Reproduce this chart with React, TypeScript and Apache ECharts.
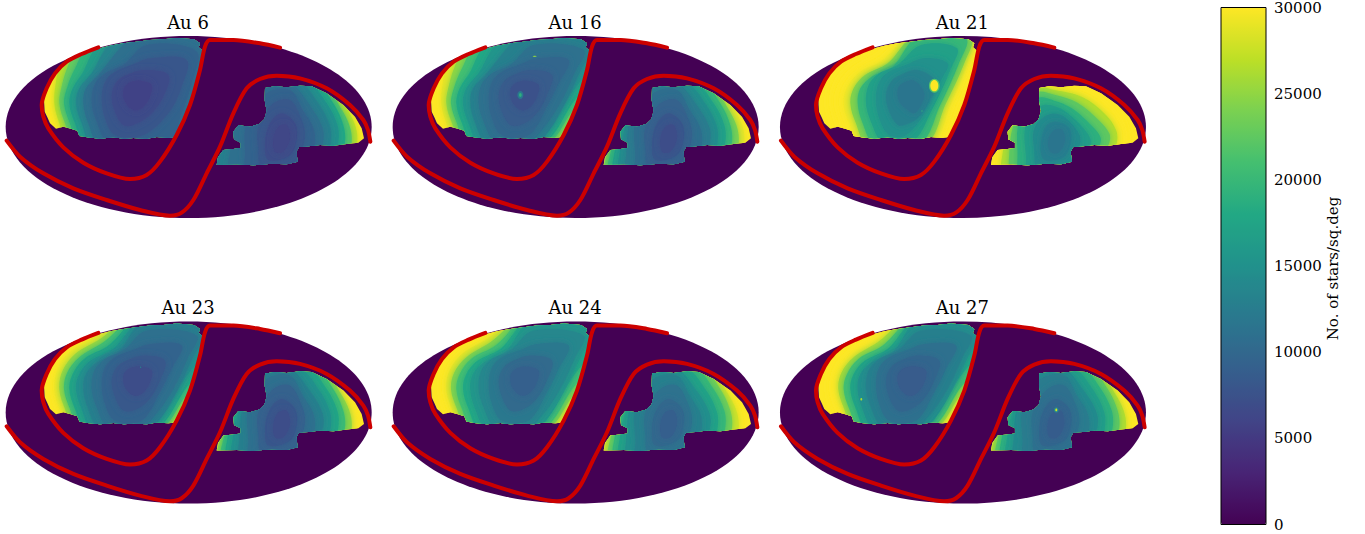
import React, { useEffect, useRef } from "react";
import * as echarts from "echarts";

type Pt = number[];

const titles = ["Au 6", "Au 16", "Au 21", "Au 23", "Au 24", "Au 27"];
const panelX = [0, 387, 774.3, 0, 387, 774.3];
const panelY = [10, 10, 10, 295.6, 295.6, 295.6];
// which geometry family each panel uses: 0 = Au 6 type, 1 = common, 2 = Au 21 type
const panelFamily = [0, 1, 2, 1, 1, 1];
// which left-arc set each panel uses: 0 = bright along the upper rim, 1 = bright only at the far left
const panelLeftArcs = [1, 1, 0, 0, 0, 0];

const colorbarTicks = [0, 5000, 10000, 15000, 20000, 25000, 30000];
const viridis = ["#440154", "#482475", "#414487", "#355f8d", "#2a788e", "#21918c", "#22a884", "#44bf70", "#7ad151", "#bddf26", "#fde725"];
const skyEllipse = [566, 351, 549, 273];

// star counts per sq.deg: footprint fill, then rings from the rim inwards
const upperAu6 = [30000, 27000, 23000, 19500, 16500, 13500, 11000, 9500, 8000, 6800, 5800];
const upperAu16 = [30000, 29000, 25000, 21000, 18000, 15500, 13000, 11200, 9800, 8500, 7400];
const upperAu21 = [30000, 30000, 30000, 30000, 29500, 24500, 20000, 17000, 15000, 13000, 11500];
const upperAu23 = [30000, 29500, 25500, 21000, 17500, 15000, 12800, 11000, 9500, 8200, 7000];
const upperAu24 = [30000, 30000, 29000, 24500, 21000, 18000, 15800, 13800, 12000, 10400, 9200];
const upperAu27 = [30000, 30000, 30000, 26000, 21000, 17500, 14800, 12800, 11000, 9700, 8600];
const lowerAu6 = [30000, 27000, 22000, 18000, 15000, 12800, 11000, 9500, 8200, 7000, 6200];
const lowerAu16 = [30000, 29000, 24000, 20000, 17000, 14500, 12500, 10800, 9300, 8000, 7000];
const lowerAu21 = [30000, 30000, 30000, 30000, 26500, 22500, 19000, 16500, 14300, 12700, 11500];
const lowerAu23 = [30000, 30000, 25000, 20500, 17500, 15000, 12800, 11000, 9400, 8000, 7000];
const lowerAu24 = [30000, 30000, 28000, 23500, 20000, 17200, 14800, 13000, 11300, 9900, 8900];
const lowerAu27 = [30000, 30000, 26500, 22500, 19000, 16500, 14200, 12500, 11000, 9700, 8700];
const upperValues = [upperAu6, upperAu16, upperAu21, upperAu23, upperAu24, upperAu27];
const lowerValues = [lowerAu6, lowerAu16, lowerAu21, lowerAu23, lowerAu24, lowerAu27];

// hot spots: panel, x, y, rx, ry, value
const hotSpots = [
  [1, 400, 255, 9, 12, 12000], [1, 400, 255, 4, 6, 19000], [1, 443, 139, 6, 2, 25000],
  [2, 480, 227, 16, 21, 22000], [2, 480, 227, 12, 17, 30000], [2, 443, 303, 2, 2, 19000],
  [3, 422, 215, 2, 2, 14000],
  [5, 261, 311, 3, 4, 26000], [5, 846, 343, 7, 8, 14000], [5, 846, 343, 3, 4, 28000],
];

const upperFootprint = [[292, 117], [262, 127], [230, 140], [205, 156], [180, 175], [163, 195], [150, 215], [138, 245], [132, 270], [134, 305], [142, 322], [150, 340], [168, 356], [190, 350], [213, 356], [232, 362], [238, 378], [262, 382], [300, 386], [340, 382], [372, 386], [400, 384], [440, 386], [470, 381], [505, 383], [528, 381], [548, 340], [570, 285], [590, 220], [605, 165], [611, 125], [596, 112], [600, 100], [582, 88], [530, 84], [490, 88], [450, 90], [410, 95], [370, 100], [330, 107]];
const lowerFootprint = [[795, 234], [825, 229], [860, 232], [900, 227], [935, 229], [980, 250], [1030, 285], [1065, 320], [1085, 355], [1092, 385], [1075, 398], [1040, 402], [1000, 407], [960, 405], [925, 409], [897, 411], [889, 425], [893, 455], [860, 463], [815, 461], [760, 466], [710, 463], [650, 465], [654, 442], [670, 420], [700, 417], [722, 414], [722, 398], [702, 388], [700, 365], [715, 346], [750, 350], [778, 342], [793, 328], [800, 303], [794, 270]];

// left halves of the rings of the upper region
const upperLeftRim = [
  [[205, 400], [178, 340], [163, 280], [175, 215], [215, 165], [290, 120], [430, 30]],
  [[225, 400], [195, 340], [178, 280], [188, 225], [225, 175], [300, 130], [430, 40]],
  [[240, 400], [210, 340], [192, 280], [202, 230], [238, 185], [310, 140], [430, 50]],
  [[258, 400], [225, 340], [208, 280], [218, 235], [252, 190], [325, 150], [430, 60]],
  [[278, 400], [245, 340], [228, 280], [238, 235], [272, 195], [340, 160], [430, 70]],
  [[300, 400], [265, 340], [250, 280], [258, 235], [292, 200], [355, 170], [430, 80]],
  [[325, 395], [290, 335], [275, 280], [283, 225], [315, 190], [370, 165], [440, 105]],
  [[345, 375], [315, 325], [305, 265], [315, 215], [345, 185], [395, 165], [450, 145]],
  [[370, 345], [345, 305], [335, 255], [350, 215], [380, 195], [430, 180]],
  [[400, 300], [375, 275], [370, 240], [385, 220], [420, 212]],
];
const upperLeftSoft = [
  [[205, 400], [178, 340], [163, 280], [168, 215], [180, 165], [205, 125], [430, 30]],
  [[225, 400], [195, 340], [178, 280], [186, 225], [205, 165], [228, 125], [430, 40]],
  [[240, 400], [210, 340], [192, 280], [202, 230], [225, 175], [258, 122], [430, 50]],
  [[258, 400], [225, 340], [208, 280], [218, 235], [250, 185], [292, 112], [430, 60]],
  [[278, 400], [245, 340], [228, 280], [238, 235], [275, 190], [332, 100], [430, 68]],
  [[300, 400], [265, 340], [250, 280], [258, 235], [295, 195], [385, 90], [430, 78]],
  [[325, 395], [290, 335], [275, 280], [283, 225], [315, 190], [370, 165], [440, 105]],
  [[345, 375], [315, 325], [305, 265], [315, 215], [345, 185], [395, 165], [450, 145]],
  [[370, 345], [345, 305], [335, 255], [350, 215], [380, 195], [430, 180]],
  [[400, 300], [375, 275], [370, 240], [385, 220], [420, 212]],
];
const upperRightA = [
  [[660, 40], [660, 420]], [[660, 40], [660, 420]], [[660, 40], [660, 420]], [[660, 40], [660, 420]], [[660, 40], [660, 420]], [[660, 40], [660, 420]],
  [[590, 125], [575, 220], [545, 310], [505, 395]],
  [[560, 150], [545, 230], [505, 310], [430, 375]],
  [[505, 195], [490, 260], [450, 315], [400, 345]],
  [[455, 225], [448, 265], [425, 295]],
];
const upperRightB = [
  [[660, 50], [660, 250], [570, 330], [515, 395]],
  [[660, 60], [650, 230], [560, 315], [495, 395]],
  [[650, 70], [640, 210], [555, 305], [480, 398]],
  [[640, 80], [630, 190], [560, 275], [465, 400]],
  [[630, 90], [620, 160], [560, 240], [510, 320], [450, 400]],
  [[620, 100], [610, 130], [580, 185], [535, 280], [480, 370], [430, 405]],
  [[590, 120], [562, 190], [520, 280], [465, 360], [420, 400]],
  [[545, 150], [515, 220], [480, 290], [425, 375]],
  [[495, 195], [480, 255], [445, 315], [400, 345]],
  [[455, 225], [448, 265], [425, 295]],
];
const upperRightC = [
  [[610, 60], [600, 150], [555, 280], [495, 400]],
  [[605, 65], [595, 150], [548, 280], [487, 400]],
  [[600, 70], [590, 150], [540, 280], [480, 400]],
  [[597, 75], [582, 150], [530, 280], [470, 400]],
  [[590, 80], [570, 160], [515, 280], [455, 400]],
  [[575, 85], [552, 165], [498, 285], [438, 400]],
  [[548, 115], [528, 180], [475, 295], [415, 395]],
  [[520, 160], [500, 210], [450, 310], [395, 375]],
  [[485, 215], [470, 265], [430, 325], [390, 345]],
  [[450, 250], [440, 285], [420, 310]],
];
const lowerRingsA = [
  [[600, 490], [600, 430], [660, 320], [740, 190], [980, 200], [1040, 295], [1065, 345], [1072, 390], [1060, 430], [900, 490]],
  [[605, 490], [605, 430], [665, 325], [745, 195], [960, 205], [1020, 290], [1048, 345], [1055, 395], [1040, 430], [900, 490]],
  [[610, 490], [610, 430], [670, 330], [750, 200], [935, 205], [1000, 280], [1030, 345], [1035, 395], [1020, 430], [900, 490]],
  [[620, 490], [620, 430], [675, 330], [755, 205], [915, 210], [980, 280], [1012, 345], [1015, 395], [1000, 430], [900, 490]],
  [[630, 490], [630, 430], [680, 335], [760, 210], [895, 215], [958, 285], [990, 350], [992, 395], [980, 430], [900, 490]],
  [[690, 490], [690, 430], [710, 335], [770, 215], [870, 220], [932, 290], [968, 355], [968, 400], [950, 430], [900, 490]],
  [[740, 490], [735, 435], [740, 340], [800, 250], [870, 240], [908, 300], [942, 360], [940, 420], [900, 490]],
  [[785, 480], [775, 420], [775, 350], [820, 280], [870, 270], [905, 330], [915, 380], [895, 440], [850, 490]],
  [[805, 450], [795, 400], [810, 340], [845, 310], [885, 340], [890, 385], [870, 435]],
  [[825, 425], [820, 385], [835, 350], [860, 345], [870, 385], [850, 425]],
];
const lowerRingsB = [
  [[650, 490], [652, 430], [690, 330], [760, 205], [980, 200], [1040, 295], [1065, 345], [1072, 390], [1060, 430], [900, 490]],
  [[660, 490], [660, 430], [698, 335], [765, 215], [960, 205], [1020, 290], [1048, 345], [1055, 395], [1040, 430], [900, 490]],
  [[670, 490], [670, 430], [705, 335], [770, 215], [935, 205], [1000, 280], [1030, 345], [1035, 395], [1020, 430], [900, 490]],
  [[685, 490], [682, 430], [710, 335], [775, 215], [915, 210], [980, 280], [1012, 345], [1015, 395], [1000, 430], [900, 490]],
  [[700, 490], [698, 430], [720, 335], [780, 215], [895, 215], [958, 285], [990, 350], [992, 395], [980, 430], [900, 490]],
  [[722, 490], [718, 430], [730, 330], [785, 215], [870, 220], [932, 290], [968, 355], [968, 400], [950, 430], [900, 490]],
  [[750, 490], [745, 435], [745, 340], [800, 250], [870, 240], [908, 300], [942, 360], [940, 420], [900, 490]],
  [[785, 480], [775, 420], [775, 350], [820, 280], [870, 270], [905, 330], [915, 380], [895, 440], [850, 490]],
  [[805, 450], [795, 400], [810, 340], [845, 310], [885, 340], [890, 385], [870, 435]],
  [[825, 425], [820, 385], [835, 350], [860, 345], [870, 385], [850, 425]],
];
const lowerRingsC = [
  [[655, 490], [652, 430], [690, 330], [765, 215], [830, 220], [960, 235], [1030, 290], [1060, 350], [1065, 395], [1050, 430], [900, 490]],
  [[662, 490], [660, 430], [698, 335], [775, 220], [835, 226], [950, 242], [1020, 295], [1050, 350], [1055, 395], [1040, 430], [900, 490]],
  [[672, 490], [670, 430], [705, 335], [785, 228], [840, 232], [940, 250], [1010, 303], [1040, 352], [1045, 395], [1030, 430], [900, 490]],
  [[690, 490], [685, 430], [712, 335], [785, 236], [840, 240], [925, 262], [995, 315], [1025, 360], [1028, 395], [1012, 430], [900, 490]],
  [[715, 490], [705, 430], [722, 335], [785, 248], [840, 254], [910, 278], [975, 332], [1005, 370], [1005, 398], [985, 430], [900, 490]],
  [[740, 490], [730, 430], [735, 335], [790, 265], [840, 272], [895, 296], [955, 350], [978, 380], [978, 400], [958, 440], [900, 490]],
  [[765, 490], [755, 435], [755, 345], [800, 288], [850, 292], [890, 318], [932, 360], [950, 395], [935, 430], [890, 490]],
  [[790, 480], [780, 425], [780, 355], [820, 315], [860, 315], [895, 345], [918, 385], [902, 440], [850, 490]],
  [[810, 450], [800, 400], [815, 350], [845, 335], [885, 355], [890, 395], [870, 440]],
  [[828, 425], [822, 390], [838, 362], [862, 358], [872, 392], [852, 428]],
];
const upperLeftArcs = [upperLeftRim, upperLeftSoft];
const upperRightArcs = [upperRightA, upperRightB, upperRightC];
const lowerRings = [lowerRingsA, lowerRingsB, lowerRingsC];

const redLoop = [[295, 112], [245, 132], [200, 155], [165, 190], [140, 235], [125, 285], [130, 320], [145, 355], [190, 412], [250, 458], [320, 490], [390, 507], [440, 495], [480, 455], [530, 375], [570, 285], [600, 180], [615, 110], [630, 90], [700, 90], [780, 100], [840, 113]];
const redBelt = [[20, 392], [60, 440], [130, 490], [220, 535], [320, 570], [420, 600], [510, 617], [545, 608], [580, 570], [620, 490], [660, 410], [700, 310], [740, 235], [780, 207], [830, 197], [900, 205], [980, 235], [1050, 285], [1090, 330], [1104, 360], [1111, 395]];
const redColor = "#cc0000";
const serif = "'DejaVu Serif', serif";

function ringPoints(blob: number, family: number, leftSet: number, ring: number): Pt[] {
  if (blob === 0) return upperLeftArcs[leftSet][ring].concat(upperRightArcs[family][ring]);
  return lowerRings[family][ring];
}

function App() {
  const ref = useRef<HTMLDivElement>(null);
  useEffect(() => {
    const chart = echarts.init(ref.current!, undefined, { renderer: "svg" });
    const grids: any[] = [];
    const xAxes: any[] = [];
    const yAxes: any[] = [];
    const series: any[] = [];
    const title: any[] = [];
    const bandSeries: number[] = [];

    titles.forEach((name, p) => {
      const family = panelFamily[p];
      const leftSet = panelLeftArcs[p];
      grids.push({ left: panelX[p], top: panelY[p], width: 385, height: 215 });
      xAxes.push({ gridIndex: p, type: "value", min: 0, max: 1155, show: false });
      yAxes.push({ gridIndex: p, type: "value", min: 0, max: 645, inverse: true, show: false });
      title.push({
        text: name,
        left: panelX[p] + 188,
        top: panelY[p] + 3,
        padding: 0,
        textAlign: "center",
        textStyle: { fontFamily: serif, fontSize: 18, fontWeight: "normal", color: "#000" },
      });
      series.push({
        type: "custom",
        xAxisIndex: p,
        yAxisIndex: p,
        clip: false,
        silent: true,
        z: 1,
        data: [skyEllipse],
        renderItem: (_: any, api: any) => {
          const c = api.coord([api.value(0), api.value(1)]);
          const s = api.size([api.value(2), api.value(3)]);
          return { type: "ellipse", shape: { cx: c[0], cy: c[1], rx: s[0], ry: s[1] }, style: { fill: viridis[0] } };
        },
      });
      const data: number[][] = [];
      upperValues[p].forEach((v, i) => data.push([v, 0, i]));
      lowerValues[p].forEach((v, i) => data.push([v, 1, i]));
      bandSeries.push(series.length);
      series.push({
        type: "custom",
        xAxisIndex: p,
        yAxisIndex: p,
        clip: false,
        silent: true,
        z: 2,
        data,
        renderItem: (_: any, api: any) => {
          const blob = api.value(1);
          const i = api.value(2);
          const fp = (blob === 0 ? upperFootprint : lowerFootprint).map((q) => api.coord(q));
          const fill = api.visual("color");
          if (i === 0) return { type: "polygon", shape: { points: fp }, style: { fill } };
          return {
            type: "polygon",
            shape: { points: ringPoints(blob, family, leftSet, i - 1).map((q) => api.coord(q)), smooth: 0.35 },
            style: { fill, shadowBlur: 7, shadowColor: fill },
            clipPath: { type: "polygon", shape: { points: fp } },
          };
        },
      });
      bandSeries.push(series.length);
      series.push({
        type: "custom",
        xAxisIndex: p,
        yAxisIndex: p,
        clip: false,
        silent: true,
        z: 3,
        data: hotSpots.filter((h) => h[0] === p).map((h) => [h[5], h[1], h[2], h[3], h[4]]),
        renderItem: (_: any, api: any) => {
          const c = api.coord([api.value(1), api.value(2)]);
          const s = api.size([api.value(3), api.value(4)]);
          return { type: "ellipse", shape: { cx: c[0], cy: c[1], rx: s[0], ry: s[1] }, style: { fill: api.visual("color") } };
        },
      });
      [redLoop, redBelt].forEach((line) => {
        series.push({
          type: "line",
          xAxisIndex: p,
          yAxisIndex: p,
          data: line,
          smooth: 0.3,
          symbol: "none",
          clip: false,
          silent: true,
          z: 4,
          lineStyle: { color: redColor, width: 4, cap: "round", join: "round" },
        });
      });
    });

    const cb = titles.length;
    grids.push({ left: 1221, top: 7.5, width: 45, height: 517 });
    xAxes.push({ gridIndex: cb, type: "value", min: 0, max: 1, show: false });
    yAxes.push({
      gridIndex: cb,
      type: "value",
      position: "right",
      min: colorbarTicks[0],
      max: colorbarTicks[colorbarTicks.length - 1],
      interval: 5000,
      splitLine: { show: false },
      axisLine: { show: false },
      axisTick: { show: true, length: 5, lineStyle: { color: "#000", width: 1 } },
      axisLabel: { fontFamily: serif, fontSize: 15, color: "#000", margin: 8, formatter: (v: number) => String(v) },
      name: "No. of stars/sq.deg",
      nameLocation: "middle",
      nameRotate: 90,
      nameGap: 56,
      nameTextStyle: { fontFamily: serif, fontSize: 15, color: "#000", padding: [0, 5, 0, 0] },
    });
    series.push({
      type: "custom",
      xAxisIndex: cb,
      yAxisIndex: cb,
      silent: true,
      clip: false,
      z: 10,
      data: [[0, 0, 1, 30000]],
      renderItem: (_: any, api: any) => {
        const a = api.coord([api.value(0), api.value(3)]);
        const b = api.coord([api.value(2), api.value(1)]);
        return { type: "rect", shape: { x: a[0], y: a[1], width: b[0] - a[0], height: b[1] - a[1] }, style: { fill: "none", stroke: "#000", lineWidth: 1 } };
      },
    });

    chart.setOption({
      animation: false,
      title,
      grid: grids,
      xAxis: xAxes,
      yAxis: yAxes,
      visualMap: {
        type: "continuous",
        show: true,
        min: 0,
        max: 30000,
        dimension: 0,
        seriesIndex: bandSeries,
        calculable: false,
        realtime: false,
        hoverLink: false,
        showLabel: false,
        text: null,
        left: 1221,
        top: 7.5,
        padding: 0,
        itemWidth: 45,
        itemHeight: 517,
        inRange: { color: viridis },
      },
      series,
    });
    return () => chart.dispose();
  }, []);
  return <div ref={ref} style={{ position: "fixed", left: 0, top: 0, width: 1365, height: 534, background: "#fff" }} />;
}

export default App;
